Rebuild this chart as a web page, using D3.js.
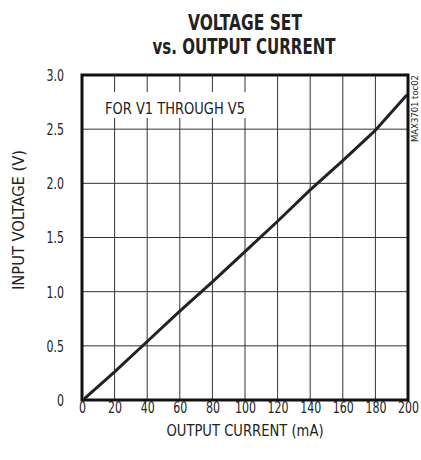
<!DOCTYPE html>
<html><head><meta charset="utf-8">
<script src="https://cdn.jsdelivr.net/npm/d3@7"></script>
<style>
html,body{margin:0;padding:0;background:#fff;}
text{font-family:"Liberation Sans Narrow","Arial Narrow","DejaVu Sans Condensed",sans-serif;fill:#222;}
</style></head>
<body>
<svg id="chart" width="421" height="460"></svg>
<script>
// Data
const currentMA = [2, 20, 40, 60, 80, 100, 120, 140, 160, 175, 180, 199];
const voltageV  = [0.02, 0.26, 0.54, 0.82, 1.09, 1.37, 1.65, 1.94, 2.21, 2.42, 2.49, 2.81];
const xTicks = [0, 20, 40, 60, 80, 100, 120, 140, 160, 180, 200];
const yTicks = [0, 0.5, 1.0, 1.5, 2.0, 2.5, 3.0];
const yTickLabels = ["0", "0.5", "1.0", "1.5", "2.0", "2.5", "3.0"];
const titleLines = ["VOLTAGE SET", "vs. OUTPUT CURRENT"];
const xTitle = "OUTPUT CURRENT (mA)";
const yTitle = "INPUT VOLTAGE (V)";
const note = "FOR V1 THROUGH V5";
const sideLabel = "MAX3701 toc02";

const svg = d3.select("#chart");
const L = 82, R = 408, T = 75, B = 400;
const x = d3.scaleLinear().domain([0, 200]).range([L, R]);
const y = d3.scaleLinear().domain([0, 3]).range([B, T]);

function labelWidth(s) {
  let w = 0;
  for (const ch of s) w += (ch === ".") ? 3.5 : 7;
  return w;
}

// grid
const g = svg.append("g");
g.selectAll(".vg").data(xTicks.slice(1, -1)).join("line")
  .attr("x1", d => x(d)).attr("x2", d => x(d)).attr("y1", T).attr("y2", B)
  .attr("stroke", "#333").attr("stroke-width", 1);
g.selectAll(".hg").data(yTicks.slice(1, -1)).join("line")
  .attr("y1", d => y(d)).attr("y2", d => y(d)).attr("x1", L).attr("x2", R)
  .attr("stroke", "#333").attr("stroke-width", 1);

// note box
svg.append("rect").attr("x", 100).attr("y", 92).attr("width", 150).attr("height", 26).attr("fill", "#fff");
svg.append("text").attr("x", 105).attr("y", 113.5).attr("font-size", 16)
  .attr("textLength", 140).attr("lengthAdjust", "spacingAndGlyphs").text(note);

// curve
svg.append("path").datum(currentMA.map((c, i) => [c, voltageV[i]]))
  .attr("d", d3.line().x(d => x(d[0])).y(d => y(d[1])))
  .attr("fill", "none").attr("stroke", "#222").attr("stroke-width", 3).attr("stroke-linecap", "round");

// frame
svg.append("rect").attr("x", L).attr("y", T).attr("width", R - L).attr("height", B - T)
  .attr("fill", "none").attr("stroke", "#111").attr("stroke-width", 3);

// axes (labels only)
const xAxis = d3.axisBottom(x).tickValues(xTicks).tickSize(0).tickPadding(0).tickFormat(d3.format("d"));
const xa = svg.append("g").attr("transform", `translate(0,${B})`).call(xAxis);
xa.select(".domain").remove();
xa.selectAll("text").attr("dy", null).attr("y", 13).attr("font-size", 15)
  .attr("textLength", function() { return labelWidth(this.textContent); })
  .attr("lengthAdjust", "spacingAndGlyphs");
const yAxis = d3.axisLeft(y).tickValues(yTicks).tickSize(0).tickPadding(0).tickFormat((d, i) => yTickLabels[i]);
const ya = svg.append("g").attr("transform", `translate(64,0)`).call(yAxis);
ya.select(".domain").remove();
ya.selectAll("text").attr("x", 0).attr("dy", "0.36em").attr("font-size", 15)
  .attr("textLength", function() { return labelWidth(this.textContent); })
  .attr("lengthAdjust", "spacingAndGlyphs");
svg.selectAll(".tick text").attr("fill", "#222").attr("font-family", null);

// titles
svg.append("text").attr("x", 245).attr("y", 30).attr("text-anchor", "middle")
  .attr("font-size", 21).attr("font-weight", "bold").attr("fill", "#111")
  .attr("textLength", 114).attr("lengthAdjust", "spacingAndGlyphs").text(titleLines[0]);
svg.append("text").attr("x", 244).attr("y", 54).attr("text-anchor", "middle")
  .attr("font-size", 21).attr("font-weight", "bold").attr("fill", "#111")
  .attr("textLength", 183).attr("lengthAdjust", "spacingAndGlyphs").text(titleLines[1]);

svg.append("text").attr("x", 245).attr("y", 435.5).attr("text-anchor", "middle")
  .attr("font-size", 15).attr("textLength", 157).attr("lengthAdjust", "spacingAndGlyphs").text(xTitle);
svg.append("text").attr("transform", "translate(24,220) rotate(-90)").attr("text-anchor", "middle")
  .attr("font-size", 15).attr("textLength", 140).attr("lengthAdjust", "spacingAndGlyphs").text(yTitle);
svg.append("text").attr("transform", "translate(418,142) rotate(-90)").attr("text-anchor", "start")
  .attr("font-size", 9).attr("textLength", 67).attr("lengthAdjust", "spacingAndGlyphs").text(sideLabel);
</script>
</body></html>
